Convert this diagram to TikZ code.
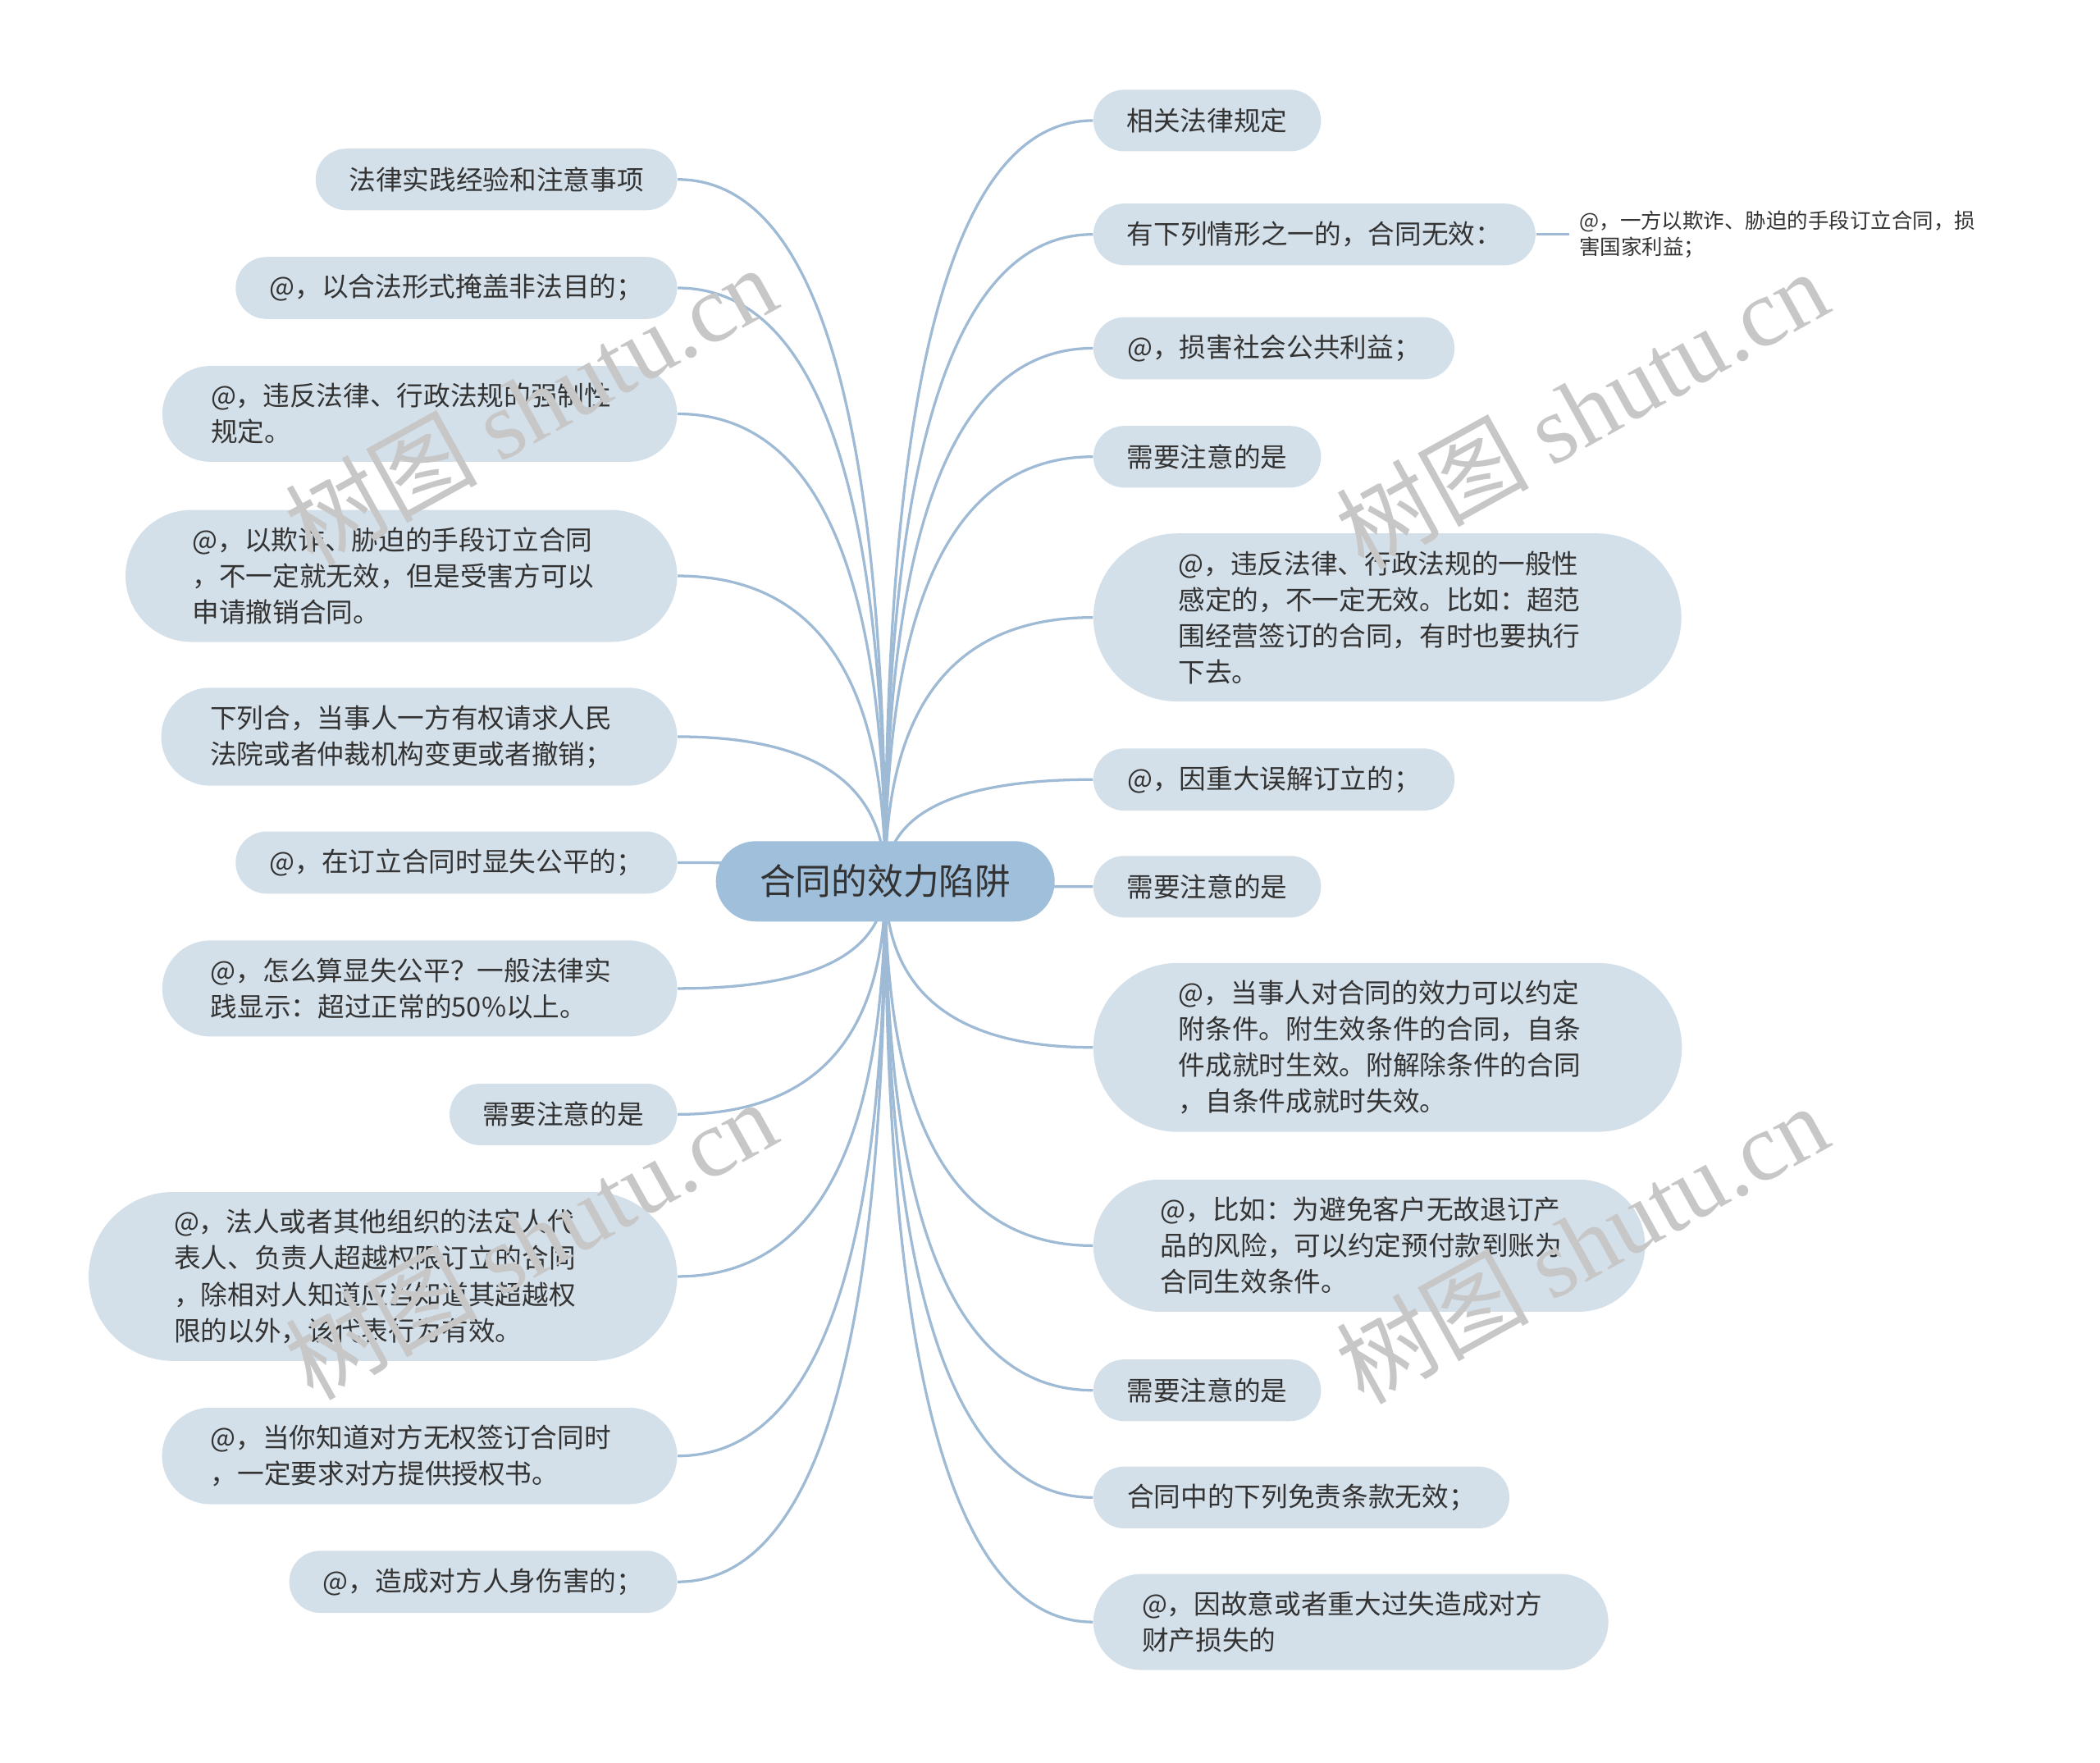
\documentclass[tikz,border=0pt]{standalone}
\usepackage{fontspec}
\setmainfont{Noto Sans CJK SC}
\newfontfamily\wmlatin{Liberation Serif}
\usetikzlibrary{shapes.misc,positioning,calc,backgrounds}
\definecolor{linec}{HTML}{9EBAD5}
\definecolor{topicfill}{HTML}{D4E0E9}
\definecolor{mainfill}{HTML}{A0BFDB}
\definecolor{inkc}{HTML}{333333}
\tikzstyle{topic}=[rounded rectangle,fill=topicfill,text=inkc,inner xsep=11.5pt,inner ysep=6.5pt,minimum height=23pt,align=left,font=\fontsize{10pt}{13.5pt}\selectfont]
\tikzset{longtopic/.style={topic,text width=156pt,inner xsep=#1}}
\tikzstyle{mainidea}=[rounded rectangle,fill=mainfill,text=inkc,inner xsep=15pt,inner ysep=8pt,minimum height=30pt,font=\fontsize{13.4pt}{16pt}\selectfont]
\tikzstyle{note}=[inner sep=3.5pt,text=inkc,align=left,font=\fontsize{7.8pt}{10pt}\selectfont]
\tikzstyle{branch}=[draw=linec,line width=1pt,to path={.. controls ($(\tikztostart)!0.667!(\tikztostart|-\tikztotarget)$) and ($(\tikztotarget)!0.667!(\tikztostart|-\tikztotarget)$) .. (\tikztotarget)}]
\tikzstyle{wmark}=[rotate=29,text=black!22,font=\fontsize{36pt}{36pt}\selectfont]

\begin{document}
\begin{tikzpicture}[x=0.5pt,y=-0.5pt]
\useasboundingbox (0,0) rectangle (1568,1316);
\node[mainidea] (root) at (661,658) {合同的效力陷阱};
% left side
\node[topic, anchor=east] (l1) at (506,134) {法律实践经验和注意事项};
\node[topic, anchor=east] (l2) at (506,215) {@，以合法形式掩盖非法目的；};
\node[longtopic=14pt, anchor=east] (l3) at (506,309) {@，违反法律、行政法规的强制性\\规定。};
\node[longtopic=17pt, anchor=east] (l4) at (506,430) {@，以欺诈、胁迫的手段订立合同\\，不一定就无效，但是受害方可以\\申请撤销合同。};
\node[longtopic=14pt, anchor=east] (l5) at (506,550) {下列合，当事人一方有权请求人民\\法院或者仲裁机构变更或者撤销；};
\node[topic, anchor=east] (l6) at (506,644) {@，在订立合同时显失公平的；};
\node[longtopic=14pt, anchor=east] (l7) at (506,738) {@，怎么算显失公平？一般法律实\\践显示：超过正常的50\%以上。};
\node[topic, anchor=east] (l8) at (506,832) {需要注意的是};
\node[longtopic=19.5pt, anchor=east] (l9) at (506,953) {@，法人或者其他组织的法定人代\\表人、负责人超越权限订立的合同\\，除相对人知道应当知道其超越权\\限的以外，该代表行为有效。};
\node[longtopic=14pt, anchor=east] (l10) at (506,1087) {@，当你知道对方无权签订合同时\\，一定要求对方提供授权书。};
\node[topic, anchor=east] (l11) at (506,1181) {@，造成对方人身伤害的；};
% right side
\node[topic, anchor=west] (r1) at (816,90) {相关法律规定};
\node[topic, anchor=west] (r2) at (816,175) {有下列情形之一的，合同无效：};
\node[note, right=12.5pt of r2] (r2a) {@，一方以欺诈、胁迫的手段订立合同，损\\害国家利益；};
\node[topic, anchor=west] (r3) at (816,260) {@，损害社会公共利益；};
\node[topic, anchor=west] (r4) at (816,341) {需要注意的是};
\node[longtopic=19.5pt, anchor=west] (r5) at (816,461) {@，违反法律、行政法规的一般性\\感定的，不一定无效。比如：超范\\围经营签订的合同，有时也要执行\\下去。};
\node[topic, anchor=west] (r6) at (816,582) {@，因重大误解订立的；};
\node[topic, anchor=west] (r7) at (816,662) {需要注意的是};
\node[longtopic=19.5pt, anchor=west] (r8) at (816,782) {@，当事人对合同的效力可以约定\\附条件。附生效条件的合同，自条\\件成就时生效。附解除条件的合同\\，自条件成就时失效。};
\node[longtopic=17pt, anchor=west] (r9) at (816,930) {@，比如：为避免客户无故退订产\\品的风险，可以约定预付款到账为\\合同生效条件。};
\node[topic, anchor=west] (r10) at (816,1038) {需要注意的是};
\node[topic, anchor=west] (r11) at (816,1118) {合同中的下列免责条款无效；};
\node[longtopic=14pt, anchor=west] (r12) at (816,1211) {@，因故意或者重大过失造成对方\\财产损失的};
% connectors
\begin{pgfonlayer}{background}
\draw[branch] (root.center) to (l1.east);
\draw[branch] (root.center) to (l2.east);
\draw[branch] (root.center) to (l3.east);
\draw[branch] (root.center) to (l4.east);
\draw[branch] (root.center) to (l5.east);
\draw[branch] (root.center) to (l6.east);
\draw[branch] (root.center) to (l7.east);
\draw[branch] (root.center) to (l8.east);
\draw[branch] (root.center) to (l9.east);
\draw[branch] (root.center) to (l10.east);
\draw[branch] (root.center) to (l11.east);
\draw[branch] (root.center) to (r1.west);
\draw[branch] (root.center) to (r2.west);
\draw[branch] (root.center) to (r3.west);
\draw[branch] (root.center) to (r4.west);
\draw[branch] (root.center) to (r5.west);
\draw[branch] (root.center) to (r6.west);
\draw[branch] (root.center) to (r7.west);
\draw[branch] (root.center) to (r8.west);
\draw[branch] (root.center) to (r9.west);
\draw[branch] (root.center) to (r10.west);
\draw[branch] (root.center) to (r11.west);
\draw[branch] (root.center) to (r12.west);
\draw[linec, line width=1pt] (r2.east) -- (r2a.west);
\end{pgfonlayer}
% watermarks
\node[wmark] (wm1) at (396,302) {树图 {\wmlatin shutu.cn}};
\node[wmark] (wm2) at (1181,305) {树图 {\wmlatin shutu.cn}};
\node[wmark] (wm3) at (396,925) {树图 {\wmlatin shutu.cn}};
\node[wmark] (wm4) at (1181,928) {树图 {\wmlatin shutu.cn}};
\end{tikzpicture}
\end{document}
